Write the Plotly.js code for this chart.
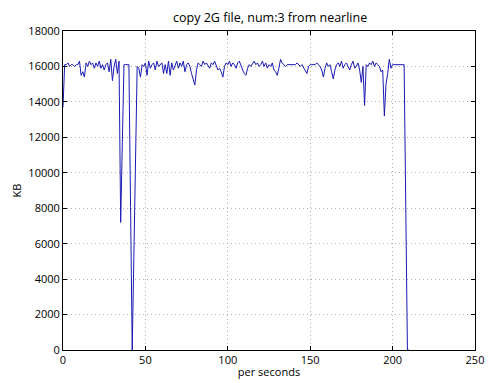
<!DOCTYPE html>
<html>
<head>
<meta charset="utf-8">
<script src="https://cdn.plot.ly/plotly-3.0.1.min.js"></script>
<style>html,body{margin:0;padding:0;background:#fff;}#chart{width:504px;height:383px;}</style>
</head>
<body>
<div id="chart"></div>
<script>
// throughput in KB, one sample per second (seconds 0..210)
const kb_0_49 = [13700,16100,16100,16200,16000,16100,16100,16000,16100,16100,
  16300,15500,15700,15400,16200,16000,16300,16100,16200,15900,
  16200,16000,16300,15900,16100,15800,16100,16200,15700,16400,
  15200,16000,16400,15600,16300,7200,11700,16100,16100,16100,
  16100,8050,0,5300,10700,16000,15900,15400,16100,16000];
const kb_50_99 = [16200,15500,16300,15900,16100,16200,15800,16300,16000,16100,
  16200,15600,16100,15600,16300,15500,16200,15800,16100,16300,
  15900,16200,16000,16300,15700,16100,16200,16000,15600,15300,
  14950,15800,16200,16100,16000,16300,16100,16200,16000,15900,
  16200,16100,16300,16000,15800,15900,15700,15400,16000,16200];
const kb_100_149 = [16100,16300,16000,16200,16100,15900,16200,16300,16000,15800,
  15600,15500,15900,16100,16000,16200,16300,16100,16200,16000,
  16100,16300,16000,16200,15900,16100,16000,16200,15800,15700,
  15500,15900,16400,16200,16100,16000,16100,16100,16100,16100,
  16100,16100,16200,16100,16000,16100,15900,15700,15600,16000];
const kb_150_210 = [16100,16100,16100,16100,16200,16100,16000,15800,15400,15900,
  16200,16000,16100,15700,15300,15800,16100,16200,16000,16300,
  15900,16100,16200,16000,15800,16100,16300,15900,16000,16200,
  15800,15100,16000,13800,16100,16000,16200,16100,16300,16000,
  16200,16100,16000,15700,15800,13200,15000,15600,16400,15900,
  16100,16100,16100,16100,16100,16100,16100,16100,8050,0,0];
const kb = kb_0_49.concat(kb_50_99, kb_100_149, kb_150_210);
const seconds = kb.map((_, i) => i);

const xTicks = [0, 50, 100, 150, 200, 250];
const yTicks = [0, 2000, 4000, 6000, 8000, 10000, 12000, 14000, 16000, 18000];

const font = {family: "Open Sans, sans-serif", color: "#000"};

const axisCommon = {
  showline: true, linecolor: "#000", linewidth: 1, mirror: "ticks",
  ticks: "inside", ticklen: 4, tickcolor: "#000",
  showgrid: true, gridcolor: "#b0b0b0", gridwidth: 1, griddash: "1px,3px",
  zeroline: false, tickfont: {family: font.family, size: 11, color: "#000"},
  exponentformat: "none", separatethousands: false
};

Plotly.newPlot("chart", [{
  x: seconds, y: kb, type: "scatter", mode: "lines",
  line: {color: "#1a1ab4", width: 1}, hoverinfo: "skip"
}], {
  width: 504, height: 383,
  paper_bgcolor: "#fff", plot_bgcolor: "#fff",
  margin: {l: 63, r: 29, t: 31, b: 33},
  showlegend: false,
  title: {text: "copy 2G file, num:3 from nearline", font: {family: font.family, size: 12.5, color: "#000"},
          x: 0.536, xanchor: "center", y: 0.955, yanchor: "middle"},
  xaxis: Object.assign({}, axisCommon, {
    range: [0, 250], tickvals: xTicks, ticktext: xTicks.map(String),
    title: {text: "per seconds", font: {family: font.family, size: 11, color: "#000"}, standoff: 2}
  }),
  yaxis: Object.assign({}, axisCommon, {
    range: [0, 18000], tickvals: yTicks, ticktext: yTicks.map(String),
    title: {text: "KB", font: {family: font.family, size: 11, color: "#000"}, standoff: 4}
  })
}, {displayModeBar: false, staticPlot: true});
</script>
</body>
</html>
